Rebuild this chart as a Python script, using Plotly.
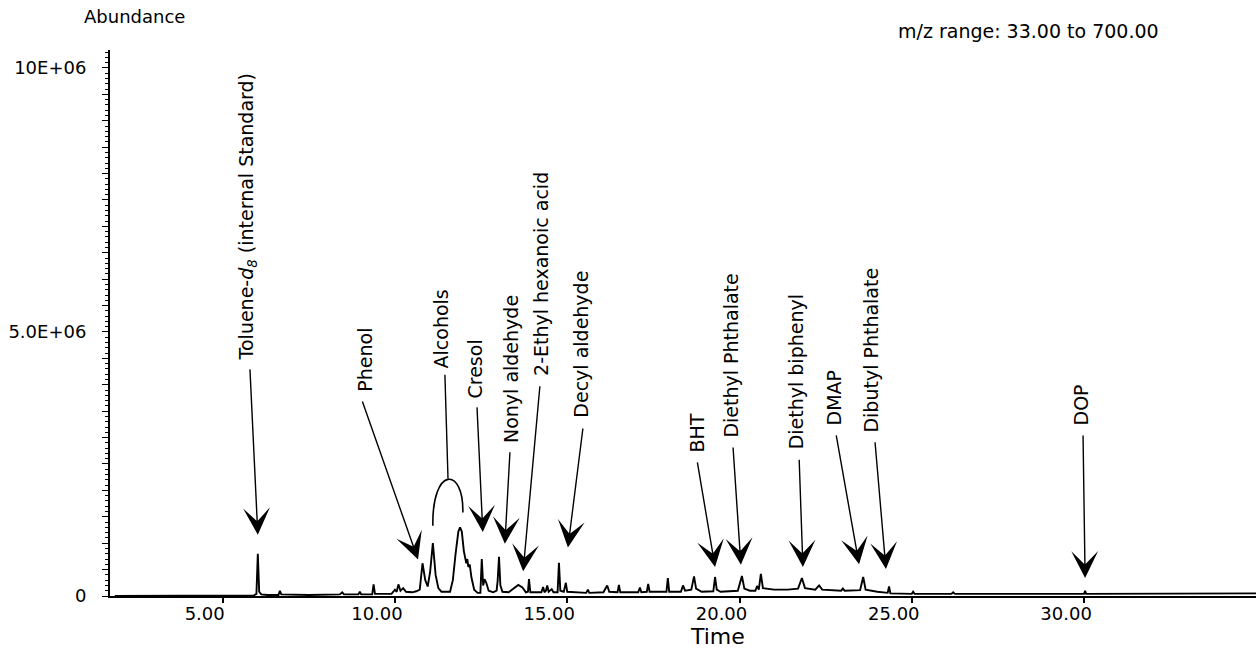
import plotly.graph_objects as go

# ---------------- data ----------------
# chromatogram trace: retention time (min) and abundance
time_min = [1.87, 3.00, 4.50, 5.90, 5.98, 6.02, 6.06, 6.12, 6.30, 6.62, 6.66, 6.70,
            7.50, 8.40, 8.47, 8.52, 8.94, 8.98, 9.02, 9.34, 9.38, 9.42, 9.90, 10.00,
            10.05, 10.10, 10.16, 10.24, 10.32, 10.50, 10.62, 10.72, 10.80, 10.88, 10.95,
            11.02, 11.10, 11.18, 11.26, 11.35, 11.60, 11.68, 11.76, 11.84, 11.89, 11.94,
            12.00, 12.04, 12.07, 12.10, 12.13, 12.17, 12.22, 12.30, 12.40, 12.48, 12.52,
            12.56, 12.60, 12.65, 12.72, 12.85, 12.95, 12.98, 13.02, 13.06, 13.12, 13.30,
            13.45, 13.58, 13.70, 13.80, 13.86, 13.89, 13.93, 14.25, 14.30, 14.34, 14.38,
            14.42, 14.46, 14.55, 14.60, 14.72, 14.76, 14.80, 14.90, 14.96, 15.00, 15.55,
            15.60, 15.64, 16.05, 16.16, 16.22, 16.46, 16.50, 16.54, 17.06, 17.11, 17.15,
            17.31, 17.35, 17.39, 17.88, 17.92, 17.96, 18.30, 18.36, 18.42, 18.60, 18.68,
            18.74, 18.90, 19.24, 19.29, 19.34, 19.45, 19.95, 20.07, 20.14, 20.30, 20.46,
            20.51, 20.56, 20.62, 20.68, 21.00, 21.40, 21.70, 21.81, 21.90, 22.20, 22.31,
            22.40, 22.95, 23.00, 23.05, 23.50, 23.59, 23.66, 24.00, 24.30, 24.34, 24.38,
            25.00, 25.04, 25.08, 26.15, 26.20, 26.25, 30.00, 30.03, 30.06, 34.99]
abundance = [0.00e6, 0.00e6, 0.01e6, 0.01e6, 0.04e6, 0.80e6, 0.08e6, 0.03e6, 0.02e6, 0.02e6, 0.10e6, 0.03e6,
             0.02e6, 0.03e6, 0.07e6, 0.03e6, 0.03e6, 0.08e6, 0.03e6, 0.03e6, 0.22e6, 0.04e6, 0.04e6, 0.12e6,
             0.08e6, 0.22e6, 0.10e6, 0.15e6, 0.08e6, 0.07e6, 0.09e6, 0.12e6, 0.62e6, 0.30e6, 0.18e6,
             0.45e6, 1.00e6, 0.40e6, 0.15e6, 0.08e6, 0.08e6, 0.30e6, 0.80e6, 1.22e6, 1.30e6, 1.22e6,
             0.85e6, 0.72e6, 0.62e6, 0.70e6, 0.55e6, 0.60e6, 0.35e6, 0.12e6, 0.06e6, 0.06e6, 0.70e6,
             0.20e6, 0.32e6, 0.25e6, 0.10e6, 0.07e6, 0.10e6, 0.28e6, 0.74e6, 0.20e6, 0.08e6, 0.07e6,
             0.15e6, 0.21e6, 0.16e6, 0.07e6, 0.08e6, 0.32e6, 0.07e6, 0.07e6, 0.17e6, 0.07e6, 0.10e6,
             0.20e6, 0.08e6, 0.13e6, 0.07e6, 0.07e6, 0.63e6, 0.10e6, 0.08e6, 0.25e6, 0.08e6, 0.06e6,
             0.12e6, 0.06e6, 0.07e6, 0.20e6, 0.08e6, 0.07e6, 0.21e6, 0.07e6, 0.07e6, 0.16e6, 0.07e6,
             0.08e6, 0.23e6, 0.08e6, 0.08e6, 0.34e6, 0.08e6, 0.08e6, 0.20e6, 0.10e6, 0.12e6, 0.37e6,
             0.14e6, 0.08e6, 0.09e6, 0.36e6, 0.12e6, 0.08e6, 0.10e6, 0.38e6, 0.14e6, 0.10e6, 0.10e6,
             0.19e6, 0.12e6, 0.42e6, 0.15e6, 0.12e6, 0.12e6, 0.14e6, 0.34e6, 0.15e6, 0.12e6, 0.20e6,
             0.12e6, 0.10e6, 0.14e6, 0.10e6, 0.11e6, 0.36e6, 0.12e6, 0.08e6, 0.06e6, 0.18e6, 0.05e6,
             0.04e6, 0.08e6, 0.04e6, 0.04e6, 0.07e6, 0.04e6, 0.04e6, 0.10e6, 0.04e6, 0.05e6]

# x-axis ticks
x_tick_vals = [5, 10, 15, 20, 25, 30]
x_tick_text = ["5.00", "10.00", "15.00", "20.00", "25.00", "30.00"]
# y-axis labelled ticks
y_label_vals = [0, 5.0e6, 10.0e6]
y_label_text = ["0", "5.0E+06", "10E+06"]

# identified compounds (arrow-annotated peaks)
compounds = ["Toluene-<i>d</i><sub><i>8</i></sub> (internal Standard)", "Phenol",
             "Cresol", "Nonyl aldehyde", "2-Ethyl hexanoic acid", "Decyl aldehyde",
             "BHT", "Diethyl Phthalate", "Diethyl biphenyl", "DMAP",
             "Dibutyl Phthalate", "DOP"]
peak_time = [6.02, 10.67, 12.55, 13.19, 13.72, 15.02, 19.29, 20.04, 21.84, 23.47, 24.25, 30.03]

# ---------------- annotation layout (label bottom, arrow tail, arrow tip) ----------------
label_t = [5.73, 9.13, 12.32, 13.37, 14.24, 15.40, 18.74, 19.75, 21.64, 22.74, 23.82, 29.91]
label_v = [4.43e6, 3.83e6, 3.71e6, 2.86e6, 4.13e6, 3.33e6, 2.67e6, 2.96e6, 2.73e6, 3.20e6, 3.05e6, 3.20e6]
tail_t = [5.79, 9.04, 12.38, 13.34, 14.21, 15.46, 18.77, 19.81, 21.73, 22.80, 23.93, 29.97]
tail_v = [4.32e6, 3.71e6, 3.60e6, 2.75e6, 4.00e6, 3.20e6, 2.56e6, 2.84e6, 2.61e6, 3.07e6, 2.94e6, 3.07e6]
tip_v = [1.16e6, 0.69e6, 1.21e6, 0.99e6, 0.47e6, 0.92e6, 0.55e6, 0.59e6, 0.55e6, 0.60e6, 0.51e6, 0.34e6]

# "Alcohols" group label with bracket arc spanning the alcohol peaks
alc_label = "Alcohols"
alc_label_t, alc_label_v = 11.335, 4.28e6
alc_line = (11.45, 4.19e6, 11.54, 2.22e6)
alc_arc_left = (11.10, 1.33e6)
alc_arc_right = (11.97, 1.58e6)
alc_arc_ctrl = 2.46e6

FONT = "DejaVu Sans"

fig = go.Figure()
fig.add_trace(go.Scatter(x=time_min, y=abundance, mode="lines",
                         line=dict(color="black", width=1.9), hoverinfo="skip",
                         showlegend=False))

annotations = []
for name, lt, lv, tt, tv, pt, pv in zip(compounds, label_t, label_v, tail_t, tail_v,
                                         peak_time, tip_v):
    annotations.append(dict(x=lt, y=lv, xref="x", yref="y", text=name, showarrow=False,
                            textangle=-90, xanchor="center", yanchor="bottom",
                            font=dict(family=FONT, size=19, color="black")))
    annotations.append(dict(x=pt, y=pv, xref="x", yref="y", ax=tt, ay=tv,
                            axref="x", ayref="y", text="", showarrow=True,
                            arrowhead=3, arrowsize=3.2, arrowwidth=1.4,
                            arrowcolor="black", standoff=0))

annotations.append(dict(x=alc_label_t, y=alc_label_v, xref="x", yref="y", text=alc_label,
                        showarrow=False, textangle=-90, xanchor="center", yanchor="bottom",
                        font=dict(family=FONT, size=19, color="black")))

annotations += [
    dict(x=-0.0244, y=1.062, xref="paper", yref="paper", text="Abundance", showarrow=False,
         xanchor="left", yanchor="middle", font=dict(family=FONT, size=18, color="black")),
    dict(x=0.686, y=1.035, xref="paper", yref="paper", text="m/z range: 33.00 to 700.00",
         showarrow=False, xanchor="left", yanchor="middle",
         font=dict(family=FONT, size=19, color="black")),
    dict(x=0.5297, y=-0.0735, xref="paper", yref="paper", text="Time", showarrow=False,
         xanchor="center", yanchor="middle", font=dict(family=FONT, size=22, color="black")),
]

x0, y0 = alc_arc_left
x1, y1 = alc_arc_right
shapes = [
    dict(type="line", xref="x", yref="y", x0=alc_line[0], y0=alc_line[1],
         x1=alc_line[2], y1=alc_line[3], line=dict(color="black", width=1.4)),
    dict(type="path", xref="x", yref="y",
         path=f"M {x0},{y0} C {x0 - 0.03},{alc_arc_ctrl} {x1 + 0.03},{alc_arc_ctrl} {x1},{y1}",
         line=dict(color="black", width=1.6)),
]

y_major = [i * 0.5e6 for i in range(21)]
y_major_text = [y_label_text[y_label_vals.index(v)] if v in y_label_vals else "" for v in y_major]

fig.update_layout(
    width=1256, height=648,
    margin=dict(l=110, r=0, t=50, b=52),
    paper_bgcolor="white", plot_bgcolor="white",
    annotations=annotations, shapes=shapes,
    xaxis=dict(range=[1.73, 34.99], tickmode="array", tickvals=x_tick_vals,
               ticktext=x_tick_text, ticks="outside", ticklen=5, tickwidth=1.5,
               tickcolor="black", showline=True, linecolor="black", linewidth=2,
               showgrid=False, zeroline=False, ticklabelshift=-18, ticklabelstandoff=-5,
               tickfont=dict(family=FONT, size=18, color="black")),
    yaxis=dict(range=[0, 10.34e6], tickmode="array", tickvals=y_major,
               ticktext=y_major_text, ticks="outside", ticklen=6, tickwidth=1.3,
               tickcolor="black", showline=True, linecolor="black", linewidth=2,
               showgrid=False, zeroline=False, ticklabelstandoff=12,
               minor=dict(tickmode="linear", tick0=0, dtick=1e5, ticks="outside",
                          ticklen=3, tickcolor="black", tickwidth=1, showgrid=False),
               tickfont=dict(family=FONT, size=18, color="black")),
)

fig.write_html("out.html")
